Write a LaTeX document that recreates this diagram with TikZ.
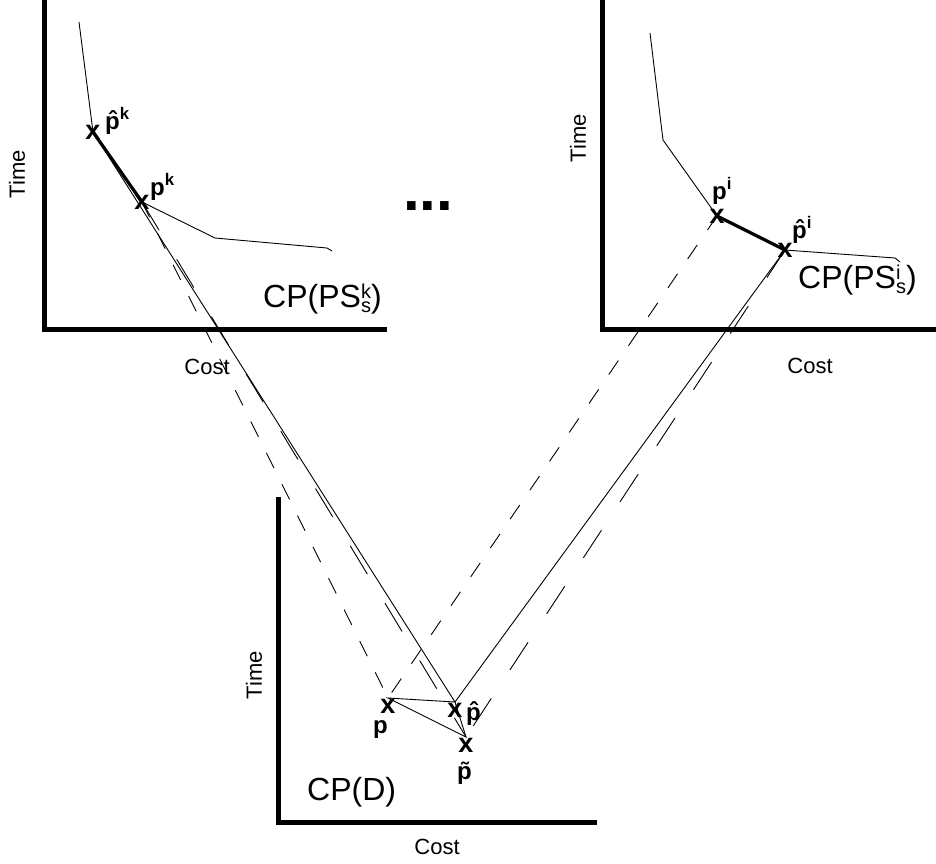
\documentclass[tikz,border=0pt]{standalone}
\usepackage{fontspec}
\setmainfont{Liberation Sans}

\newcommand{\fsz}[1]{\fontsize{#1}{#1}\selectfont}
\newcommand{\ks}[2]{\raisebox{-5pt}{\fsz{20}\baselineskip=17pt\shortstack[l]{#1\\#2}}}

\begin{document}
\begin{tikzpicture}[x=1pt, y=-1pt,
	axis/.style={line width=5pt},
	front/.style={line width=0.9pt, line join=round},
	chosen/.style={line width=3.2pt},
	link/.style={line width=0.9pt},
	shortdash/.style={link, dash pattern=on 17pt off 18pt},
	longdash/.style={link, dash pattern=on 33pt off 34pt},
	cross/.style={font=\bfseries\fsz{27}, inner sep=0pt},
	plbl/.style={font=\bfseries\fsz{24}, inner sep=0pt, anchor=base west},
	axlbl/.style={font=\fsz{22}, inner sep=0pt},
	cplbl/.style={font=\fsz{32}, inner sep=0pt, anchor=base west}]
	
	\useasboundingbox (0,0) rectangle (936,863);
	
	% --- 1. 坐标轴 ---
	\draw[axis] (44,0) -- (44,329) -- (387,329);
	\draw[axis] (602,0) -- (602,329) -- (936,329);
	\draw[axis] (278.5,497) -- (278.5,822.5) -- (597,822.5);
	\node[axlbl, rotate=90] (timek) at (17,174) {Time};
	\node[axlbl, rotate=90] (timei) at (578,138) {Time};
	\node[axlbl, rotate=90] (timed) at (254,675) {Time};
	\node[axlbl] (costk) at (207,367) {Cost};
	\node[axlbl] (costi) at (810,366) {Cost};
	\node[axlbl] (costd) at (437,847) {Cost};
	\node[cplbl] (cpk) at (263,307) {CP(PS\ks{k}{s})};
	\node[cplbl] (cpi) at (798,288) {CP(PS\ks{i}{s})};
	\node[cplbl] (cpd) at (307,800) {CP(D)};
	\node[font=\bfseries\fsz{60}, inner sep=0pt, anchor=base] (dots) at (428,210) {...};
	
	% --- 2. 点 ---
	\coordinate (phk) at (93,132);
	\coordinate (pk) at (142,202);
	\coordinate (pi) at (717,216);
	\coordinate (phi) at (785,250);
	\coordinate (p) at (388,698);
	\coordinate (ph) at (455,702);
	\coordinate (pt) at (466,737);
	
	% --- 3. 曲线 ---
	\draw[front] (79,22) -- (phk) -- (pk) -- (215,238) -- (327,248) -- (332,251);
	\draw[chosen] (phk) -- (pk);
	\draw[front] (650,33) -- (663,140) -- (pi) -- (phi) -- (895,258) -- (900,262);
	\draw[chosen] (pi) -- (phi);
	
	% --- 4. 连线 ---
	\draw[shortdash] (pk) -- (p);
	\draw[longdash] (pk) -- (pt);
	\draw[link] (phk) -- (ph);
	\draw[shortdash] (pi) -- (p);
	\draw[link] (phi) -- (ph);
	\draw[longdash] (phi) -- (pt);
	\draw[link] (p) -- (ph) -- (pt) -- cycle;
	
	% --- 5. 标记 ---
	\foreach \q in {phk, pk, pi, phi}
		\node[cross] at (\q) {x};
	\foreach \q in {p, ph, pt}
		\node[cross] at ([yshift=-8pt]\q) {x};
	
	\node[plbl] (lphk) at (105,129) {\^p\textsuperscript{k}};
	\node[plbl] (lpk) at (150,195) {p\textsuperscript{k}};
	\node[plbl] (lpi) at (712,199) {p\textsuperscript{i}};
	\node[plbl] (lphi) at (792,238) {\^p\textsuperscript{i}};
	\node[plbl] (lp) at (373,733) {p};
	\node[plbl] (lph) at (466,720) {\^p};
	\node[plbl] (lpt) at (457,779) {\~p};
	
\end{tikzpicture}
\end{document}
